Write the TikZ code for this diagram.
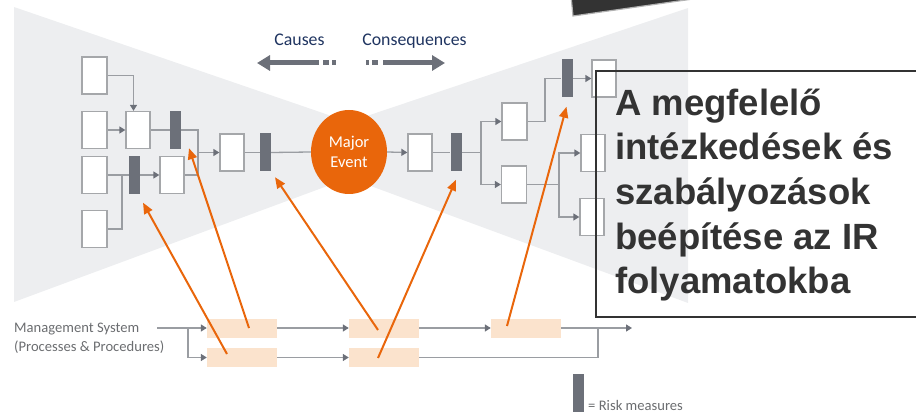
\documentclass[tikz,border=0pt]{standalone}
\usepackage{fontspec}
\setmainfont{Carlito}
\newfontfamily\boxfont{Liberation Sans}
\usetikzlibrary{arrows.meta,shapes.geometric,calc}
\definecolor{bggray}{HTML}{EDEEF0}
\definecolor{bargray}{HTML}{6C7079}
\definecolor{linegray}{HTML}{9A9DA2}
\definecolor{boxgray}{HTML}{A5A7AA}
\definecolor{pinkfill}{HTML}{FBE3CD}
\definecolor{orangeA}{HTML}{E9660B}
\definecolor{navy}{HTML}{1F3460}
\definecolor{txtgray}{HTML}{6B6D70}
\definecolor{darktxt}{HTML}{333333}
\tikzset{
  wbox/.style={draw=boxgray, fill=white, line width=1.3pt, minimum width=24pt, minimum height=37pt, inner sep=0pt},
  rbar/.style={fill=bargray, minimum width=11pt, minimum height=38pt, inner sep=0pt},
  pbox/.style={fill=pinkfill, minimum width=70pt, minimum height=19pt, inner sep=0pt},
  conn/.style={draw=linegray, line width=1.3pt},
  arr/.style={conn, -{Triangle[length=6pt,width=7pt,color=bargray]}},
  oarr/.style={draw=orangeA, line width=2pt, -{Triangle[length=11pt,width=9pt]}},
  bigarr/.style={draw=bargray, line width=5pt},
  gsfont/.style={font=\fontsize{14.6}{19}\selectfont, text=txtgray, inner sep=0pt}
}
\begin{document}
\begin{tikzpicture}[x=1pt,y=-1pt]
\useasboundingbox (0,0) rectangle (916,414);
% background bow-tie
\fill[bggray] (14,7) -- (349,122) -- (688,8) -- (688,303) -- (349,178) -- (14,302) -- cycle;
% dark shape at top
\filldraw[fill=darktxt, draw=gray!60, line width=1.2pt] (571,-4) -- (573,16) -- (714,-4) -- cycle;

% causes / consequences
\node[anchor=base, text=navy, font=\fontsize{17.8}{20}\selectfont, inner sep=0pt] (CA) at (299.5,46) {Causes};
\node[anchor=base, text=navy, font=\fontsize{17.8}{20}\selectfont, inner sep=0pt] (CO) at (414.5,46) {Consequences};
\draw[bigarr, -{Triangle[length=13pt,width=15pt]}] (319,63) -- (257,63);
\draw[bigarr] (323,63) -- (329,63) (332,63) -- (336,63);
\draw[bigarr, -{Triangle[length=13pt,width=15pt]}] (383,63) -- (445,63);
\draw[bigarr] (366,63) -- (369,63) (372,63) -- (378,63);

% left (causes) side
\node[wbox, minimum width=25pt] (A1) at (94.5,75.5) {};
\node[wbox, minimum width=25pt] (A2) at (94.5,130) {};
\node[wbox, minimum width=25pt] (A3) at (94.5,175) {};
\node[wbox, minimum width=25pt] (A4) at (94.5,229) {};
\node[wbox] (B1) at (138,130) {};
\node[rbar] (R1) at (175.5,130) {};
\node[rbar] (R2) at (134.5,175) {};
\node[wbox] (B2) at (172,175) {};
\node[wbox] (C1) at (232,152.5) {};
\node[rbar] (R3) at (265.5,152.5) {};

% major event
\node[ellipse, fill=orangeA, minimum width=76pt, minimum height=84pt, inner sep=0pt, text=white, align=center, font=\fontsize{16.5}{20}\selectfont] (ME) at (349,152) {Major\\Event};

% right (consequences) side
\node[wbox] (D1) at (420,152.5) {};
\node[rbar] (R4) at (456,152.5) {};
\node[wbox, minimum width=25pt] (E1) at (514.5,121.5) {};
\node[wbox, minimum width=25pt] (E2) at (514,184.5) {};
\node[rbar] (R5) at (567,78.5) {};
\node[wbox] (F1) at (604,78.5) {};
\node[wbox] (F2) at (593,153) {};
\node[wbox] (F3) at (592,217) {};

% gray connectors, left
\draw[arr] (A1.east) -| ([xshift=-4.5pt]B1.north);
\draw[arr] (A2.east) -- (B1.west);
\draw[conn] (B1.east) -- (R1.west);
\coordinate (j1) at (198,152.5);
\draw[conn] (R1.east) -| (j1);
\draw[conn] (B2.east) -| (j1);
\draw[arr] (j1) -- (C1.west);
\coordinate (j2) at (122,175);
\draw[conn] (A3.east) -- (R2.west);
\draw[conn] (A4.east) -| (j2);
\draw[arr] (R2.east) -- (B2.west);
\draw[conn] (C1.east) -- (R3.west);
\draw[conn] (R3.east) -- (ME.west);
% gray connectors, right
\draw[arr] (ME.east) -- (D1.west);
\draw[conn] (D1.east) -- (R4.west);
\coordinate (j3) at (481,152.5);
\draw[conn] (R4.east) -- (j3);
\draw[arr] (j3) |- (E1.west);
\draw[arr] (j3) |- (E2.west);
\coordinate (j4) at (545,121.5);
\draw[conn] (E1.east) -- (j4) |- (R5.west);
\draw[arr] (R5.east) -- (F1.west);
\coordinate (j5) at (559,184.5);
\draw[conn] (E2.east) -- (j5);
\draw[arr] (j5) |- (F2.west);
\draw[arr] (j5) |- (F3.west);

% management system
\node[gsfont, anchor=base west, align=left] (MS) at (14,351) {Management System\\(Processes \& Procedures)};
\node[pbox] (P1) at (242,328) {};
\node[pbox] (P2) at (242,357.5) {};
\node[pbox] (P3) at (384,328) {};
\node[pbox] (P4) at (384,357.5) {};
\node[pbox] (P5) at (526,328) {};
\coordinate (ms) at (157,328);
\coordinate (j6) at (188,328);
\coordinate (out) at (632,328);
\coordinate (j7) at (598,328);
\draw[arr] (ms) -- (P1.west);
\draw[arr] (j6) |- (P2.west);
\draw[arr] (P1.east) -- (P3.west);
\draw[arr] (P2.east) -- (P4.west);
\draw[arr] (P3.east) -- (P5.west);
\draw[arr] (P5.east) -- (out);
\draw[conn] (P4.east) -| (j7);

% orange arrows
\draw[oarr] ($(P1.center)+(7,0)$) -- ($(R1.south)+(13.5,-1)$);
\draw[oarr] ($(P2.center)+(-15,-3.5)$) -- ($(R2.south)+(8.5,8.5)$);
\draw[oarr] ($(P3.center)+(-6,2)$) -- ($(R3.south)+(9.5,5.5)$);
\draw[oarr] ($(P4.center)+(-6,0.5)$) -- ($(R4.south)+(0,8)$);
\draw[oarr] ($(P5.center)+(-19,-2)$) -- ($(R5.south)+(-0.5,9)$);

% legend
\node[rbar] (LG) at (578.5,393) {};
\node[gsfont, anchor=base west] (LGT) at (588,410) {= Risk measures};

% overlay text box
\node[draw=darktxt, line width=1.8pt, minimum width=330pt, minimum height=246pt, anchor=north west, inner sep=0pt] (TB) at (595,70) {};
\node[anchor=base west, inner sep=0pt, align=left, text=darktxt, font=\boxfont\bfseries\fontsize{36.5}{44.7}\selectfont] (TX) at (615,293.8) {A megfelelő\\intézkedések és\\szabályozások\\beépítése az IR\\folyamatokba};
\end{tikzpicture}
\end{document}
